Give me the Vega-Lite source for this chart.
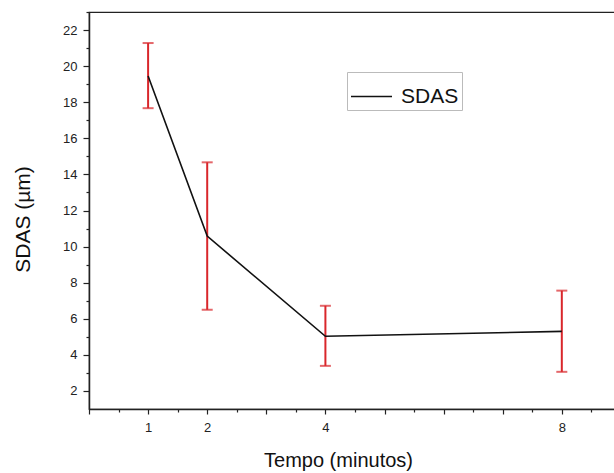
{
  "$schema": "https://vega.github.io/schema/vega-lite/v6.json",
  "width": 526,
  "height": 397,
  "autosize": {"type": "none"},
  "padding": {"left": 89, "top": 12, "right": 0, "bottom": 64},
  "background": "white",
  "config": {
    "font": "Liberation Sans",
    "view": {"stroke": "#222", "strokeWidth": 1.2},
    "axis": {"grid": false, "domainColor": "#222", "tickColor": "#222", "labelColor": "#222", "titleColor": "#111", "domainWidth": 1.5, "tickWidth": 1.2, "labelFont": "Liberation Sans", "titleFont": "Liberation Sans", "titleFontWeight": "normal", "labelFontSize": 13}
  },
  "data": {
    "values": [
      {"t": 1, "sdas": 19.45, "lo": 17.67, "hi": 21.28, "s": "SDAS"},
      {"t": 2, "sdas": 10.58, "lo": 6.5, "hi": 14.67, "s": "SDAS"},
      {"t": 4, "sdas": 5.03, "lo": 3.39, "hi": 6.72, "s": "SDAS"},
      {"t": 8, "sdas": 5.3, "lo": 3.06, "hi": 7.56, "s": "SDAS"}
    ]
  },
  "resolve": {"axis": {"x": "independent", "y": "independent"}},
  "layer": [
    {
      "mark": {"type": "rule", "color": "#d9262b", "strokeWidth": 2},
      "encoding": {
        "x": {"field": "t", "type": "quantitative", "scale": {"domain": [0, 8.9], "nice": false, "zero": false},
          "axis": {"orient": "bottom", "values": [0, 1, 2, 3, 4, 5, 6, 7, 8], "labelExpr": "indexof([1,2,4,8], datum.value) >= 0 ? datum.label : ''", "tickSize": 5, "labelPadding": 7, "title": "Tempo (minutos)", "titleFontSize": 20, "titleX": 249, "titleY": 51, "titleBaseline": "middle"}},
        "y": {"field": "lo", "type": "quantitative", "scale": {"domain": [1, 23], "nice": false, "zero": false},
          "axis": {"orient": "left", "values": [2, 4, 6, 8, 10, 12, 14, 16, 18, 20, 22], "tickSize": 6, "labelPadding": 6, "title": "SDAS (µm)", "titleFontSize": 21, "titleX": -66, "titleY": 207, "titleBaseline": "middle"}},
        "y2": {"field": "hi"}
      }
    },
    {
      "mark": {"type": "tick", "color": "#d9262b", "thickness": 2, "size": 11, "orient": "horizontal"},
      "encoding": {
        "x": {"field": "t", "type": "quantitative", "axis": {"orient": "bottom", "values": [0.5, 1.5, 2.5, 3.5, 4.5, 5.5, 6.5, 7.5, 8.5], "labels": false, "tickSize": 3, "domain": false, "title": null}},
        "y": {"field": "lo", "type": "quantitative", "axis": {"orient": "left", "values": [3, 5, 7, 9, 11, 13, 15, 17, 19, 21, 23], "labels": false, "tickSize": 3, "domain": false, "title": null}}
      }
    },
    {
      "mark": {"type": "tick", "color": "#d9262b", "thickness": 2, "size": 11, "orient": "horizontal"},
      "encoding": {
        "x": {"field": "t", "type": "quantitative", "axis": null},
        "y": {"field": "hi", "type": "quantitative", "axis": null}
      }
    },
    {
      "mark": {"type": "line", "strokeWidth": 1.6},
      "encoding": {
        "x": {"field": "t", "type": "quantitative", "axis": null},
        "y": {"field": "sdas", "type": "quantitative", "axis": null},
        "color": {"field": "s", "type": "nominal", "scale": {"range": ["#111"]},
          "legend": {"title": null, "orient": "none", "legendX": 258, "legendY": 60, "symbolType": "stroke", "symbolSize": 1681, "symbolStrokeWidth": 1.6, "labelFontSize": 21, "labelFont": "Liberation Sans", "labelColor": "#111", "strokeColor": "#bbb", "padding": 3, "labelOffset": 8}}
      }
    }
  ]
}
